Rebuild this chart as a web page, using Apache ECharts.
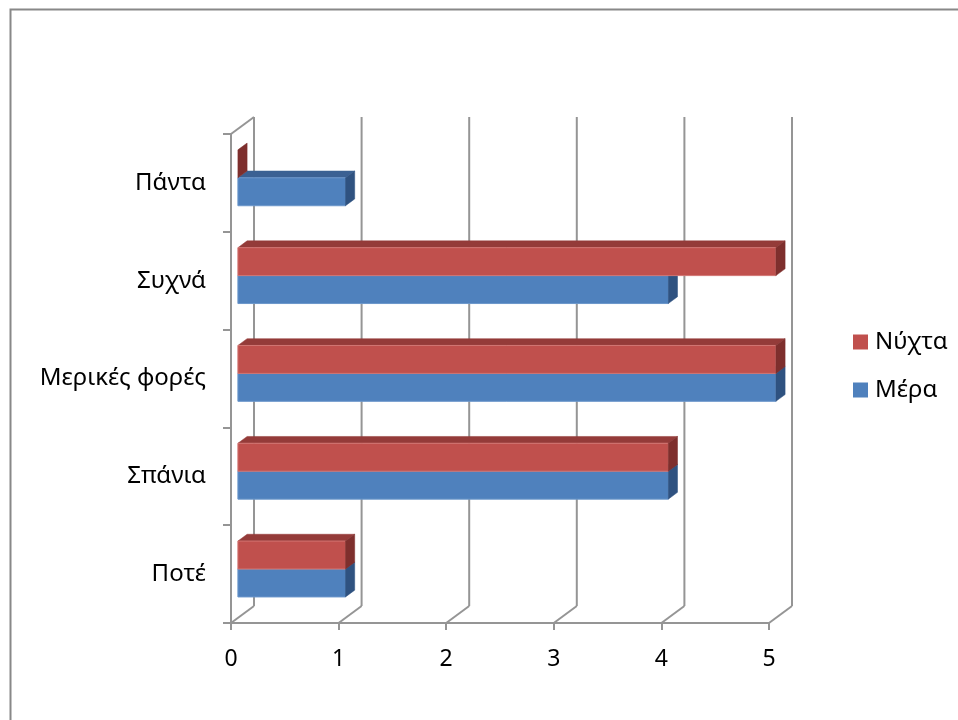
<!DOCTYPE html>
<html>
<head>
<meta charset="utf-8">
<script src="https://cdn.jsdelivr.net/npm/echarts@6/dist/echarts.min.js"></script>
<style>
  html, body { margin: 0; padding: 0; background: #fff; }
  #chart { width: 958px; height: 720px; }
</style>
</head>
<body>
<div id="chart"></div>
<script>
// Categories listed bottom-to-top (category y axis grows upward)
const categories = ['Ποτέ', 'Σπάνια', 'Μερικές φορές', 'Συχνά', 'Πάντα'];
const dayValues = [1, 4, 5, 4, 1];     // Μέρα
const nightValues = [1, 4, 5, 5, 0];   // Νύχτα
const xTicks = [0, 1, 2, 3, 4, 5];

// Pseudo-3D depth of the plot box (screen px)
const DEPTH_X = 23, DEPTH_Y = -17;
// Bars occupy the middle slice of that depth
const FRONT_T = 0.3, BACK_T = 0.7;

const GRID_COLOR = '#959595';
const FONT = 'Noto Sans';

const chart = echarts.init(document.getElementById('chart'));

function wallLines(params, api) {
  const cs = params.coordSys;
  const v = api.value(0);
  const px = api.coord([v, 0])[0];
  const top = cs.y, bottom = cs.y + cs.height;
  const style = { stroke: GRID_COLOR, lineWidth: 2, fill: null };
  const children = [
    { type: 'line', shape: { x1: px + DEPTH_X, y1: top + DEPTH_Y, x2: px + DEPTH_X, y2: bottom + DEPTH_Y }, style },
    { type: 'line', shape: { x1: px, y1: bottom, x2: px + DEPTH_X, y2: bottom + DEPTH_Y }, style }
  ];
  if (v === 0) {
    children.push({ type: 'line', shape: { x1: px, y1: top, x2: px + DEPTH_X, y2: top + DEPTH_Y }, style });
  }
  return { type: 'group', children };
}

function makeBarRenderer(colors, upper) {
  return function (params, api) {
    const cat = api.value(0);
    const val = api.value(1);
    const start = api.coord([0, cat]);
    const end = api.coord([val, cat]);
    const band = api.size([0, 1])[1];
    const w = band / 3.5;
    const fx = DEPTH_X * FRONT_T, fy = DEPTH_Y * FRONT_T;
    const sx = DEPTH_X * (BACK_T - FRONT_T), sy = DEPTH_Y * (BACK_T - FRONT_T);
    const x0 = start[0] + fx;
    const x1 = end[0] + fx;
    const yc = start[1] + fy;
    const yTop = upper ? yc - w : yc;
    const yBot = upper ? yc : yc + w;
    const children = [];
    if (x1 - x0 > 0.5) {
      children.push({
        type: 'polygon',
        shape: { points: [[x0, yTop], [x1, yTop], [x1 + sx, yTop + sy], [x0 + sx, yTop + sy]] },
        style: { fill: colors.top, stroke: colors.top, lineWidth: 0.5 }
      });
      children.push({
        type: 'rect',
        shape: { x: x0, y: yTop, width: x1 - x0, height: yBot - yTop },
        style: { fill: colors.front, stroke: colors.edge, lineWidth: 1 }
      });
    }
    children.push({
      type: 'polygon',
      shape: { points: [[x1, yTop], [x1 + sx, yTop + sy], [x1 + sx, yBot + sy], [x1, yBot]] },
      style: { fill: colors.side, stroke: colors.side, lineWidth: 0.5 }
    });
    return { type: 'group', children };
  };
}

const dayColors = { front: '#4F81BD', top: '#3B6193', side: '#2F5280', edge: '#6C97CB' };
const nightColors = { front: '#C0504D', top: '#943B39', side: '#7E2F2D', edge: '#D27673' };

const option = {
  animation: false,
  backgroundColor: '#ffffff',
  graphic: [{
    type: 'rect',
    left: 8, top: 7,
    shape: { x: 0, y: 0, width: 1000, height: 800 },
    style: { fill: null, stroke: '#888888', lineWidth: 2 },
    z: -10
  }],
  grid: { left: 231, top: 134, width: 538, height: 489, containLabel: false },
  legend: {
    orient: 'vertical',
    left: 848, top: 325,
    itemWidth: 15, itemHeight: 15,
    itemGap: 24,
    icon: 'rect',
    textStyle: { fontFamily: FONT, fontSize: 24, lineHeight: 24, color: '#000', padding: [0, 0, 0, 2] },
    data: ['Νύχτα', 'Μέρα']
  },
  xAxis: {
    type: 'value',
    min: 0, max: 5, interval: 1,
    axisLine: { show: true, lineStyle: { color: GRID_COLOR, width: 2 } },
    axisTick: { show: true, length: 7, lineStyle: { color: GRID_COLOR, width: 2 } },
    axisLabel: { margin: 25, fontFamily: FONT, fontSize: 23, color: '#000', formatter: v => String(v) },
    splitLine: { show: false }
  },
  yAxis: {
    type: 'category',
    data: categories,
    axisLine: { show: true, lineStyle: { color: GRID_COLOR, width: 2 } },
    axisTick: { show: true, length: 8, interval: 0, lineStyle: { color: GRID_COLOR, width: 2 } },
    axisLabel: { margin: 25, fontFamily: FONT, fontSize: 24, color: '#000' },
    splitLine: { show: false }
  },
  series: [
    {
      type: 'custom',
      name: 'walls',
      renderItem: wallLines,
      encode: { x: 0 },
      data: xTicks.map(v => [v]),
      silent: true,
      z: 1
    },
    {
      type: 'custom',
      name: 'Μέρα',
      renderItem: makeBarRenderer(dayColors, false),
      encode: { y: 0, x: 1 },
      itemStyle: { color: '#4F81BD' },
      data: dayValues.map((v, i) => [i, v]),
      z: 2
    },
    {
      type: 'custom',
      name: 'Νύχτα',
      renderItem: makeBarRenderer(nightColors, true),
      encode: { y: 0, x: 1 },
      itemStyle: { color: '#C0504D' },
      data: nightValues.map((v, i) => [i, v]),
      z: 3
    }
  ]
};

chart.setOption(option);
</script>
</body>
</html>
